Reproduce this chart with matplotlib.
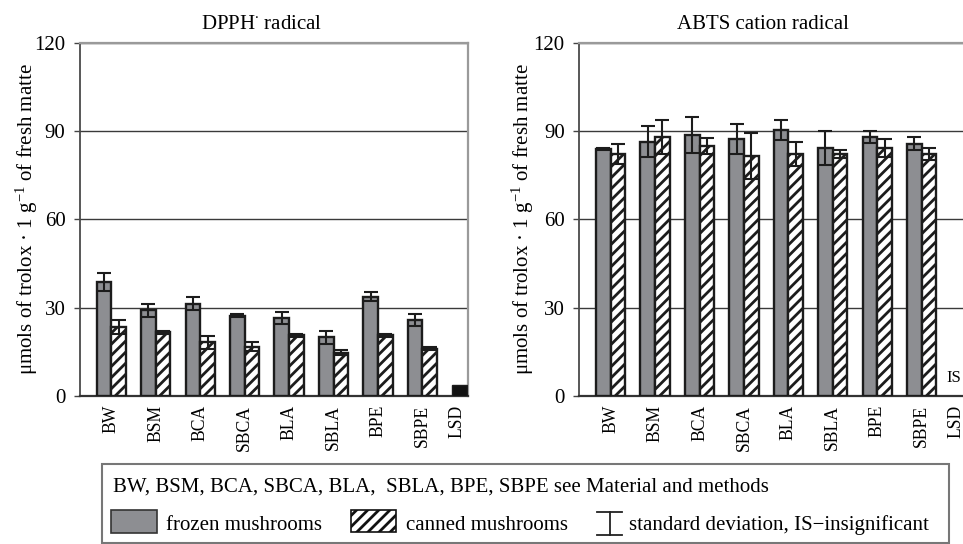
import numpy as np
import matplotlib
matplotlib.use("Agg")
import matplotlib.pyplot as plt
from matplotlib.patches import Rectangle
from matplotlib.lines import Line2D

plt.rcParams["font.family"] = ["Liberation Serif", "DejaVu Serif"]
plt.rcParams["mathtext.fontset"] = "custom"
plt.rcParams["mathtext.rm"] = "Liberation Serif"
plt.rcParams["mathtext.it"] = "Liberation Serif:italic"
plt.rcParams["mathtext.bf"] = "Liberation Serif:bold"
plt.rcParams["hatch.linewidth"] = 2.0
plt.rcParams["hatch.color"] = "#111111"

# ---- data -------------------------------------------------------------
categories = ["BW", "BSM", "BCA", "SBCA", "BLA", "SBLA", "BPE", "SBPE"]
lsd_label = "LSD"

dpph_frozen = [38.7, 29.1, 31.4, 27.2, 26.4, 19.9, 33.7, 25.7]
dpph_frozen_sd = [3.0, 2.3, 2.2, 0.5, 2.1, 2.1, 1.5, 2.0]
dpph_canned = [23.4, 21.6, 18.3, 16.8, 20.6, 14.7, 20.6, 16.1]
dpph_canned_sd = [2.3, 0.5, 2.2, 1.5, 0.6, 0.8, 0.6, 0.6]
dpph_lsd = 3.8

abts_frozen = [83.8, 86.4, 88.7, 87.2, 90.3, 84.2, 88.0, 85.7]
abts_frozen_sd = [0.3, 5.3, 6.0, 5.1, 3.4, 5.9, 2.0, 2.3]
abts_canned = [82.2, 88.0, 85.0, 81.5, 82.2, 82.2, 84.2, 82.2]
abts_canned_sd = [3.5, 5.7, 2.8, 7.8, 4.2, 1.4, 3.0, 2.0]
abts_lsd_text = "IS"

panel_titles = [r"DPPH$^{\bullet}$ radical", "ABTS cation radical"]
y_label = r"μmols of trolox · 1 g$^{-1}$ of fresh matte"
legend_note = "BW, BSM, BCA, SBCA, BLA,  SBLA, BPE, SBPE see Material and methods"
legend_items = ["frozen mushrooms", "canned mushrooms",
                "standard deviation, IS\u2212insignificant"]

# ---- styling ----------------------------------------------------------
W, H = 963, 544
GRAY = "#8d8e92"
EDGE = "#1c1c1c"
BAR_W = 0.33

fig = plt.figure(figsize=(W / 100, H / 100), dpi=100)


def fx(px):
    return px / W


def fy(py):
    return 1 - py / H


def draw_panel(left_px, frozen, frozen_sd, canned, canned_sd, title, title_x,
               ylabel_x, lsd_value=None, lsd_text=None):
    ax = fig.add_axes([fx(left_px), fy(396), 387.7 / W, 353.3 / H])
    x = np.arange(len(categories))
    fz = x - BAR_W / 2
    cn = x + BAR_W / 2
    ax.bar(fz, frozen, BAR_W, color=GRAY, edgecolor=EDGE, linewidth=1.7, zorder=3)
    ax.bar(cn, canned, BAR_W, color="white", edgecolor=EDGE, linewidth=1.7,
           hatch="///", zorder=3)
    ekw = dict(fmt="none", ecolor=EDGE, elinewidth=1.5, capsize=5, capthick=1.5, zorder=4)
    ax.errorbar(fz, frozen, yerr=frozen_sd, **ekw)
    ax.errorbar(cn, canned, yerr=canned_sd, **ekw)

    lsd_x = len(categories) - BAR_W / 2
    if lsd_value is not None:
        ax.bar([lsd_x], [lsd_value], BAR_W, color="#111111", edgecolor=EDGE,
               linewidth=1.0, zorder=3)
    if lsd_text is not None:
        ax.text(lsd_x - BAR_W / 2 - 0.11, 4.6, lsd_text, fontsize=12, ha="left",
                va="baseline", zorder=5)

    ax.set_xlim(-0.706, 8.02)
    ax.set_ylim(0, 120)
    ax.set_yticks([0, 30, 60, 90, 120])
    ax.set_xticks(list(x) + [lsd_x - 0.06])
    ax.set_xticklabels(categories + [lsd_label], rotation=90, fontsize=12.7,
                       va="top", ha="center")
    ax.tick_params(axis="x", length=0, pad=6.5)
    ax.tick_params(axis="y", length=4, width=1.0, color="#444444",
                   labelsize=15, pad=6.5, direction="out")
    ax.yaxis.grid(True, color="#3a3a3a", linewidth=1.0)
    ax.set_axisbelow(True)
    for side, col, lw in (("left", "#4a4a4a", 1.3), ("bottom", "#333333", 1.6),
                          ("top", "#9a9a9a", 1.6), ("right", "#9a9a9a", 1.6)):
        ax.spines[side].set_color(col)
        ax.spines[side].set_linewidth(lw)

    fig.text(fx(title_x), fy(29), title, fontsize=15, ha="center", va="baseline")
    fig.text(fx(ylabel_x), fy(219.5), y_label, fontsize=15, rotation=90,
             ha="center", va="center")
    return ax


draw_panel(80, dpph_frozen, dpph_frozen_sd, dpph_canned, dpph_canned_sd,
           panel_titles[0], 262, 26.7, lsd_value=dpph_lsd)
draw_panel(579.3, abts_frozen, abts_frozen_sd, abts_canned, abts_canned_sd,
           panel_titles[1], 762.5, 523, lsd_text=abts_lsd_text)

# ---- legend box ---------------------------------------------------------
fig.add_artist(Rectangle((fx(101.7), fy(543)), fx(949 - 101.7), (543 - 464) / H,
                         transform=fig.transFigure, facecolor="white",
                         edgecolor="#777777", linewidth=1.5))
fig.text(fx(113), fy(491.5), legend_note, fontsize=15, ha="left", va="baseline")

fig.add_artist(Rectangle((fx(111), fy(533)), fx(46), 23 / H, transform=fig.transFigure,
                         facecolor=GRAY, edgecolor="#333333", linewidth=1.2))
fig.text(fx(166), fy(530), legend_items[0], fontsize=15, ha="left", va="baseline")

fig.add_artist(Rectangle((fx(351), fy(532)), fx(45), 22 / H, transform=fig.transFigure,
                         facecolor="white", edgecolor="#111111", linewidth=1.2,
                         hatch="///"))
fig.text(fx(406), fy(530), legend_items[1], fontsize=15, ha="left", va="baseline")

ib_x0, ib_x1, ib_y0, ib_y1 = 597, 622, 512, 535
for xs, ys in (([ib_x0, ib_x1], [ib_y0, ib_y0]),
               ([ib_x0, ib_x1], [ib_y1, ib_y1]),
               ([(ib_x0 + ib_x1) / 2] * 2, [ib_y0, ib_y1])):
    fig.add_artist(Line2D([fx(v) for v in xs], [fy(v) for v in ys],
                          transform=fig.transFigure, color="#222222", linewidth=1.3))
fig.text(fx(629), fy(530), legend_items[2], fontsize=15, ha="left", va="baseline")

fig.savefig("out.png", dpi=100)
